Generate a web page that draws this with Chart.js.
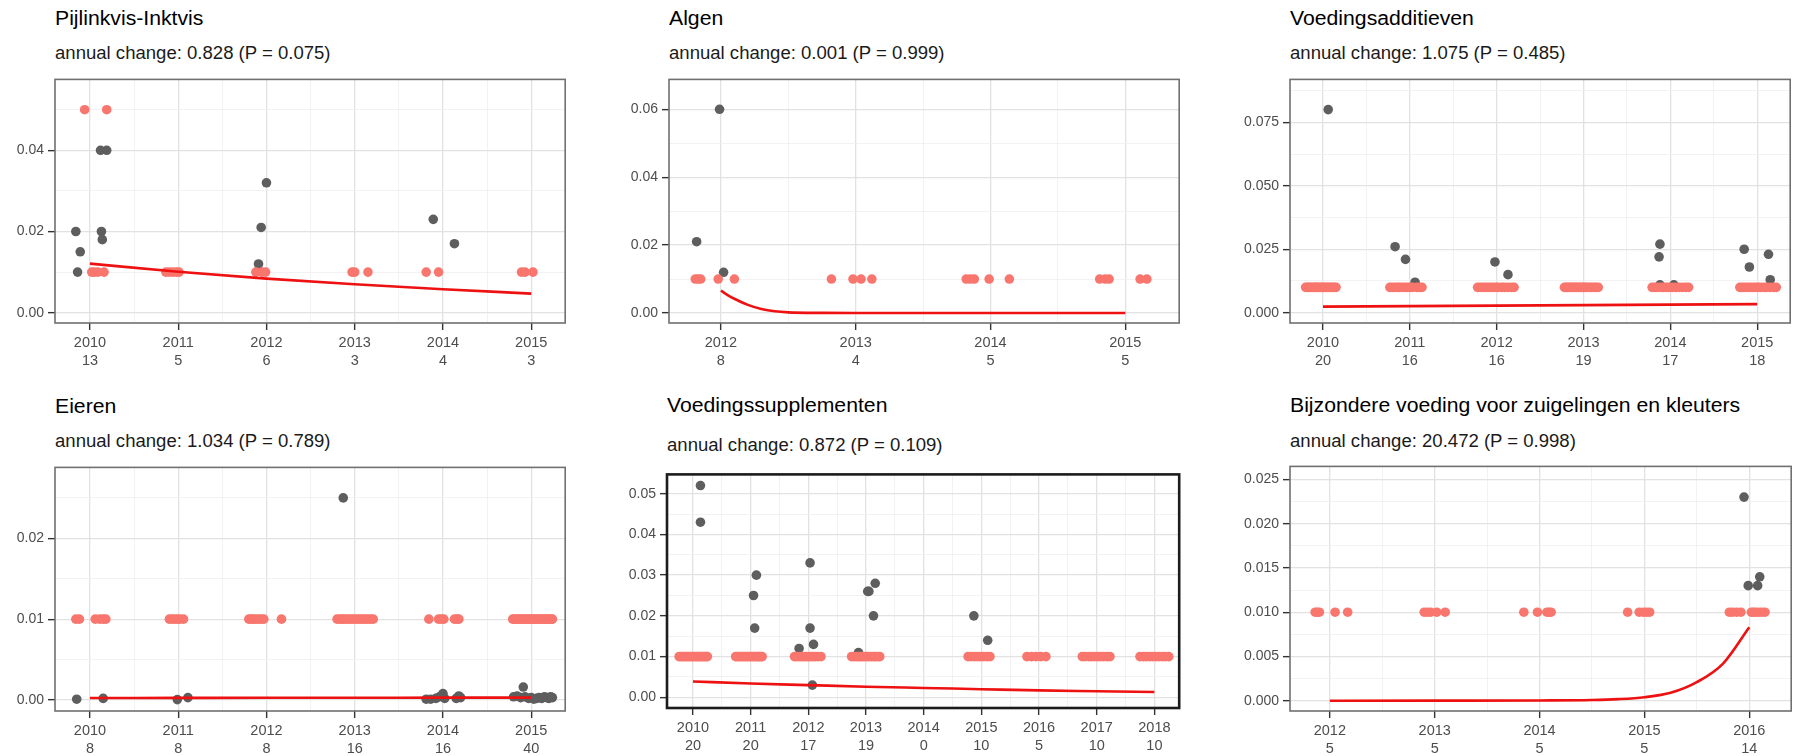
<!DOCTYPE html>
<html>
<head>
<meta charset="utf-8">
<script src="https://cdn.jsdelivr.net/npm/chart.js@4/dist/chart.umd.min.js"></script>
<style>
  html, body { margin: 0; padding: 0; background: #fff; }
  body { width: 1797px; height: 756px; position: relative; overflow: hidden;
         font-family: "Liberation Sans", Arial, sans-serif; }
  .t { position: absolute; white-space: nowrap; line-height: 1; transform-origin: 0 0; transform: scaleX(1.06); }
  .title { font-size: 20px; color: #000; }
  .sub { font-size: 17.5px; color: #1a1a1a; }
  canvas { position: absolute; }
</style>
</head>
<body>
<script>
const RED = "#F8766D";
const GREY = "#5e5e5e";
const FIT = "#ee1111";

// Pijlinkvis-Inktvis
const p1Years = [2010, 2011, 2012, 2013, 2014, 2015];
const p1Counts = [13, 5, 6, 3, 4, 3];
const p1YTicks = [0, 0.02, 0.04];
const p1GreyX = [2009.84, 2009.89, 2009.86, 2010.12, 2010.19, 2010.13, 2010.14, 2012.0, 2011.94, 2011.91, 2013.89, 2014.13];
const p1GreyY = [0.02, 0.015, 0.01, 0.04, 0.04, 0.02, 0.018, 0.032, 0.021, 0.012, 0.023, 0.017];
const p1RedX = [2009.94, 2010.19, 2010.02, 2010.05, 2010.09, 2010.16, 2010.86, 2010.9, 2010.94, 2010.98, 2011.01,
  2011.88, 2011.95, 2011.99, 2012.97, 2013.0, 2013.15, 2013.81, 2013.95, 2014.89, 2014.93, 2015.02];
const p1RedY = [0.05, 0.05, 0.01, 0.01, 0.01, 0.01, 0.01, 0.01, 0.01, 0.01, 0.01,
  0.01, 0.01, 0.01, 0.01, 0.01, 0.01, 0.01, 0.01, 0.01, 0.01, 0.01];
const p1FitX = [2010, 2011, 2012, 2013, 2014, 2015];
const p1FitY = [0.0121, 0.0101, 0.0084, 0.0070, 0.0058, 0.0047];

// Algen
const p2Years = [2012, 2013, 2014, 2015];
const p2Counts = [8, 4, 5, 5];
const p2YTicks = [0, 0.02, 0.04, 0.06];
const p2GreyX = [2011.99, 2011.82, 2012.02];
const p2GreyY = [0.06, 0.021, 0.012];
const p2RedX = [2011.81, 2011.83, 2011.85, 2011.98, 2012.1, 2012.82, 2012.98, 2013.04, 2013.12,
  2013.82, 2013.85, 2013.88, 2013.99, 2014.14, 2014.81, 2014.85, 2014.88, 2015.11, 2015.16];
const p2RedY = 0.01;
const p2FitX = [2012, 2012.05, 2012.1, 2012.2, 2012.3, 2012.4, 2012.5, 2012.75, 2013, 2014, 2015];
const p2FitY = [0.0066, 0.0053, 0.0042, 0.0024, 0.0012, 0.0005, 0.0002, 0.00003, 0, 0, 0];

// Voedingsadditieven
const p3Years = [2010, 2011, 2012, 2013, 2014, 2015];
const p3Counts = [20, 16, 16, 19, 17, 18];
const p3YTicks = [0, 0.025, 0.05, 0.075];
const p3GreyX = [2010.06, 2010.83, 2010.95, 2011.06, 2011.98, 2012.13, 2013.88, 2013.87, 2013.88, 2014.04, 2014.85, 2015.13, 2014.91, 2015.15];
const p3GreyY = [0.08, 0.026, 0.021, 0.012, 0.02, 0.015, 0.027, 0.022, 0.011, 0.011, 0.025, 0.023, 0.018, 0.013];
const p3RedX = [
  2009.8, 2009.82, 2009.84, 2009.86, 2009.88, 2009.9, 2009.92, 2009.93, 2009.95, 2009.97, 2009.99, 2010.01, 2010.03, 2010.05, 2010.07, 2010.09, 2010.11, 2010.13, 2010.15,
  2010.77, 2010.8, 2010.83, 2010.86, 2010.88, 2010.91, 2010.94, 2010.97, 2011.0, 2011.03, 2011.08, 2011.11, 2011.14,
  2011.78, 2011.81, 2011.84, 2011.87, 2011.9, 2011.93, 2011.96, 2011.99, 2012.02, 2012.06, 2012.09, 2012.13, 2012.17, 2012.2,
  2012.78, 2012.8, 2012.82, 2012.84, 2012.86, 2012.88, 2012.9, 2012.92, 2012.94, 2012.96, 2012.98, 2013.0, 2013.02, 2013.04, 2013.07, 2013.09, 2013.12, 2013.14, 2013.17,
  2013.79, 2013.82, 2013.85, 2013.89, 2013.92, 2013.95, 2013.98, 2014.02, 2014.06, 2014.1, 2014.14, 2014.18, 2014.21,
  2014.8, 2014.83, 2014.86, 2014.89, 2014.92, 2014.95, 2014.98, 2015.01, 2015.04, 2015.08, 2015.11, 2015.15, 2015.19, 2015.22];
const p3RedY = 0.01;
const p3FitX = [2010, 2011, 2012, 2013, 2014, 2015];
const p3FitY = [0.0024, 0.0026, 0.0028, 0.003, 0.0032, 0.0034];

// Eieren
const p4Years = [2010, 2011, 2012, 2013, 2014, 2015];
const p4Counts = [8, 8, 8, 16, 16, 40];
const p4YTicks = [0, 0.01, 0.02];
const p4GreyX = [2009.85, 2010.15, 2010.99, 2011.11, 2012.87,
  2013.81, 2013.86, 2013.92, 2013.96, 2014.0, 2014.02, 2014.15, 2014.18, 2014.2,
  2014.8, 2014.84, 2014.88, 2014.91, 2014.93, 2014.97, 2015.0, 2015.03, 2015.06, 2015.09, 2015.12, 2015.15, 2015.18, 2015.2, 2015.22, 2015.24];
const p4GreyY = [0.0001, 0.0002, 0.00005, 0.0003, 0.025,
  0.0001, 0.0001, 0.0002, 0.0004, 0.0008, 0.0002, 0.0002, 0.0005, 0.0003,
  0.0004, 0.0005, 0.0003, 0.0016, 0.0004, 0.0002, 0.0003, 0.0001, 0.0002, 0.0003, 0.0002, 0.0004, 0.0003, 0.0002, 0.0004, 0.0003];
const p4RedX = [
  2009.84, 2009.88, 2010.06, 2010.11, 2010.15, 2010.18,
  2010.9, 2010.93, 2010.96, 2010.99, 2011.02, 2011.06,
  2011.8, 2011.83, 2011.85, 2011.88, 2011.91, 2011.94, 2011.97, 2012.17,
  2012.8, 2012.83, 2012.86, 2012.88, 2012.91, 2012.94, 2012.97, 2013.0, 2013.03, 2013.06, 2013.09, 2013.12, 2013.15, 2013.18, 2013.21,
  2013.84, 2013.95, 2013.98, 2014.01, 2014.13, 2014.16, 2014.18,
  2014.79, 2014.81, 2014.83, 2014.85, 2014.87, 2014.89, 2014.91, 2014.93, 2014.95, 2014.97, 2014.99, 2015.01,
  2015.03, 2015.05, 2015.07, 2015.09, 2015.11, 2015.13, 2015.15, 2015.17, 2015.19, 2015.21, 2015.23, 2015.24];
const p4RedY = 0.01;
const p4FitX = [2010, 2011, 2012, 2013, 2014, 2015];
const p4FitY = [0.00025, 0.00026, 0.00027, 0.00028, 0.00029, 0.0003];

// Voedingssupplementen
const p5Years = [2010, 2011, 2012, 2013, 2014, 2015, 2016, 2017, 2018];
const p5Counts = [20, 20, 17, 19, 0, 10, 5, 10, 10];
const p5YTicks = [0, 0.01, 0.02, 0.03, 0.04, 0.05];
const p5GreyX = [2010.13, 2010.13, 2011.1, 2011.05, 2011.07, 2012.03, 2012.03, 2012.09, 2011.84, 2012.07,
  2012.87, 2013.03, 2013.05, 2013.16, 2013.13, 2014.87, 2015.11];
const p5GreyY = [0.052, 0.043, 0.03, 0.025, 0.017, 0.033, 0.017, 0.013, 0.012, 0.003,
  0.011, 0.026, 0.026, 0.028, 0.02, 0.02, 0.014];
const p5RedX = [
  2009.76, 2009.79, 2009.82, 2009.85, 2009.88, 2009.91, 2009.94, 2009.97, 2010.0, 2010.03, 2010.06, 2010.09, 2010.12, 2010.15, 2010.18, 2010.2, 2010.23, 2010.25,
  2010.74, 2010.77, 2010.8, 2010.83, 2010.86, 2010.89, 2010.92, 2010.95, 2010.98, 2011.01, 2011.04, 2011.07, 2011.1, 2011.13, 2011.15, 2011.18, 2011.2,
  2011.76, 2011.8, 2011.84, 2011.88, 2011.92, 2011.96, 2012.0, 2012.04, 2012.08, 2012.12, 2012.17, 2012.22,
  2012.75, 2012.79, 2012.83, 2012.87, 2012.9, 2012.94, 2012.98, 2013.02, 2013.06, 2013.1, 2013.14, 2013.17, 2013.21, 2013.24,
  2014.77, 2014.82, 2014.88, 2014.93, 2014.98, 2015.04, 2015.1, 2015.15,
  2015.79, 2015.87, 2015.95, 2016.03, 2016.12,
  2016.75, 2016.8, 2016.86, 2016.91, 2016.96, 2017.02, 2017.07, 2017.12, 2017.18, 2017.23,
  2017.75, 2017.81, 2017.86, 2017.92, 2017.97, 2018.03, 2018.08, 2018.14, 2018.19, 2018.25];
const p5RedY = 0.01;
const p5FitX = [2010, 2011, 2012, 2013, 2014, 2015, 2016, 2017, 2018];
const p5FitY = [0.0039, 0.0034, 0.003, 0.0026, 0.0023, 0.002, 0.0017, 0.0015, 0.0013];

// Bijzondere voeding voor zuigelingen en kleuters
const p6Years = [2012, 2013, 2014, 2015, 2016];
const p6Counts = [5, 5, 5, 5, 14];
const p6YTicks = [0, 0.005, 0.01, 0.015, 0.02, 0.025];
const p6GreyX = [2015.95, 2015.99, 2016.08, 2016.1];
const p6GreyY = [0.023, 0.013, 0.013, 0.014];
const p6RedX = [2011.86, 2011.88, 2011.9, 2012.05, 2012.17,
  2012.9, 2012.93, 2012.96, 2013.02, 2013.1,
  2013.85, 2013.98, 2014.07, 2014.09, 2014.11,
  2014.84, 2014.95, 2014.99, 2015.02, 2015.05,
  2015.81, 2015.84, 2015.88, 2015.92, 2016.02, 2016.04, 2016.06, 2016.09, 2016.12, 2016.15];
const p6RedY = 0.01;
const p6FitX = [2012, 2013, 2014, 2014.5, 2014.75, 2015, 2015.25, 2015.5, 2015.75, 2016];
const p6FitY = [0, 0.00001, 0.00003, 0.00008, 0.00018, 0.0004, 0.0009, 0.0021, 0.0042, 0.0083];

const panels = [
  { title: "Pijlinkvis-Inktvis", sub: "annual change: 0.828 (P = 0.075)",
    years: p1Years, counts: p1Counts, yTicks: p1YTicks, dec: 2,
    grey: [p1GreyX, p1GreyY], red: [p1RedX, p1RedY], fit: [p1FitX, p1FitY],
    box: [55, 79, 566, 323], xr: [2009.604, 2015.385], yr: [-0.00253, 0.05746], tY: 25, sY: 60 },
  { title: "Algen", sub: "annual change: 0.001 (P = 0.999)",
    years: p2Years, counts: p2Counts, yTicks: p2YTicks, dec: 2,
    grey: [p2GreyX, p2GreyY], red: [p2RedX, p2RedY], fit: [p2FitX, p2FitY],
    box: [669, 79, 1180, 323], xr: [2011.615, 2015.4], yr: [-0.00294, 0.0688], tY: 25, sY: 60 },
  { title: "Voedingsadditieven", sub: "annual change: 1.075 (P = 0.485)",
    years: p3Years, counts: p3Counts, yTicks: p3YTicks, dec: 3,
    grey: [p3GreyX, p3GreyY], red: [p3RedX, p3RedY], fit: [p3FitX, p3FitY],
    box: [1290, 79, 1791, 323], xr: [2009.62, 2015.38], yr: [-0.00405, 0.0919], tY: 25, sY: 60 },
  { title: "Eieren", sub: "annual change: 1.034 (P = 0.789)",
    years: p4Years, counts: p4Counts, yTicks: p4YTicks, dec: 2,
    grey: [p4GreyX, p4GreyY], red: [p4RedX, p4RedY], fit: [p4FitX, p4FitY],
    box: [55, 467, 566, 711], xr: [2009.604, 2015.385], yr: [-0.00136, 0.02877], tY: 413, sY: 448 },
  { title: "Voedingssupplementen", sub: "annual change: 0.872 (P = 0.109)",
    years: p5Years, counts: p5Counts, yTicks: p5YTicks, dec: 2,
    grey: [p5GreyX, p5GreyY], red: [p5RedX, p5RedY], fit: [p5FitX, p5FitY],
    box: [667, 474, 1180, 708], xr: [2009.55, 2018.43], yr: [-0.00262, 0.05473], tY: 412, sY: 452,
    frameColor: "#1c1c1c", frameWidth: 2.6 },
  { title: "Bijzondere voeding voor zuigelingen en kleuters", sub: "annual change: 20.472 (P = 0.998)",
    years: p6Years, counts: p6Counts, yTicks: p6YTicks, dec: 3,
    grey: [p6GreyX, p6GreyY], red: [p6RedX, p6RedY], fit: [p6FitX, p6FitY],
    box: [1290, 466, 1792, 711], xr: [2011.62, 2016.4], yr: [-0.00116, 0.02647], tY: 412, sY: 448 },
];

const frame = {
  id: "frame",
  afterDraw(chart, args, opts) {
    const a = chart.chartArea;
    const ctx = chart.ctx;
    ctx.save();
    ctx.strokeStyle = opts.color;
    ctx.lineWidth = opts.width;
    ctx.strokeRect(a.left, a.top, a.right - a.left, a.bottom - a.top);
    ctx.restore();
  },
};

function toPoints(xs, ys) {
  return xs.map((x, i) => ({ x, y: Array.isArray(ys) ? ys[i] : ys }));
}

function mkTicks(major, lo, hi) {
  const step = major[1] - major[0];
  const out = [];
  major.forEach((v) => { if (v >= lo && v <= hi) out.push({ value: v, isMajor: true }); });
  [major[0] - step / 2, ...major.map((v) => v + step / 2)].forEach((v) => {
    if (v > lo && v < hi) out.push({ value: v, isMajor: false });
  });
  return out.sort((a, b) => a.value - b.value);
}

const FONT = "'Liberation Sans', Arial, sans-serif";
const PAD_TOP = 12, PAD_RIGHT = 4, X_H = 52, Y_W = 62;

const grid = {
  color: (c) => (c.tick && c.tick.isMajor ? "#e2e2e2" : "#efefef"),
  lineWidth: (c) => (c.tick && c.tick.isMajor ? 1.3 : 0.8),
  tickColor: (c) => (c.tick && c.tick.isMajor ? "#333333" : "rgba(0,0,0,0)"),
  tickWidth: 1.4,
  tickLength: 7,
  drawTicks: true,
};

function text(cls, str, left, baseline, size) {
  const d = document.createElement("div");
  d.className = "t " + cls;
  d.textContent = str;
  d.style.left = left + "px";
  d.style.top = (baseline - size * 0.8465) + "px";
  document.body.appendChild(d);
}

panels.forEach((p) => {
  const [l, t, r, b] = p.box;
  text("title", p.title, l, p.tY, 20);
  text("sub", p.sub, l, p.sY, 17.5);

  const cv = document.createElement("canvas");
  const w = r - l + Y_W + PAD_RIGHT;
  const h = b - t + PAD_TOP + X_H;
  cv.width = w;
  cv.height = h;
  cv.style.width = w + "px";
  cv.style.height = h + "px";
  cv.style.left = (l - Y_W) + "px";
  cv.style.top = (t - PAD_TOP) + "px";
  document.body.appendChild(cv);

  new Chart(cv, {
    type: "scatter",
    data: {
      datasets: [
        {
          data: toPoints(p.fit[0], p.fit[1]),
          showLine: true,
          borderColor: FIT,
          borderWidth: 2.6,
          pointRadius: 0,
          cubicInterpolationMode: "monotone",
        },
        {
          data: toPoints(p.red[0], p.red[1]),
          pointRadius: 4.8,
          pointBorderWidth: 0,
          pointBackgroundColor: RED,
        },
        {
          data: toPoints(p.grey[0], p.grey[1]),
          pointRadius: 4.8,
          pointBorderWidth: 0,
          pointBackgroundColor: GREY,
        },
      ],
    },
    options: {
      responsive: false,
      devicePixelRatio: 1,
      animation: false,
      layout: { padding: { top: PAD_TOP, right: PAD_RIGHT, left: 0, bottom: 0 } },
      plugins: {
        legend: { display: false },
        tooltip: { enabled: false },
        frame: { color: p.frameColor || "#707070", width: p.frameWidth || 1.6 },
      },
      scales: {
        x: {
          type: "linear",
          min: p.xr[0],
          max: p.xr[1],
          bounds: "data",
          afterBuildTicks: (s) => { s.ticks = mkTicks(p.years, p.xr[0], p.xr[1]); },
          afterFit: (s) => { s.height = X_H; },
          border: { display: false },
          grid,
          ticks: {
            autoSkip: false,
            maxRotation: 0,
            minRotation: 0,
            padding: 3.5,
            color: "#4d4d4d",
            font: { family: FONT, size: 14.5, lineHeight: 1.26 },
            callback: (v, i, ticks) => {
              if (!ticks[i].isMajor) return "";
              const k = p.years.indexOf(Math.round(v));
              return [String(Math.round(v)), String(p.counts[k])];
            },
          },
        },
        y: {
          type: "linear",
          min: p.yr[0],
          max: p.yr[1],
          bounds: "data",
          afterBuildTicks: (s) => { s.ticks = mkTicks(p.yTicks, p.yr[0], p.yr[1]); },
          afterFit: (s) => { s.width = Y_W; },
          border: { display: false },
          grid,
          ticks: {
            autoSkip: false,
            padding: 4,
            color: "#4d4d4d",
            font: { family: FONT, size: 14 },
            callback: (v, i, ticks) => (ticks[i].isMajor ? v.toFixed(p.dec) : ""),
          },
        },
      },
    },
    plugins: [frame],
  });
});
</script>
</body>
</html>
